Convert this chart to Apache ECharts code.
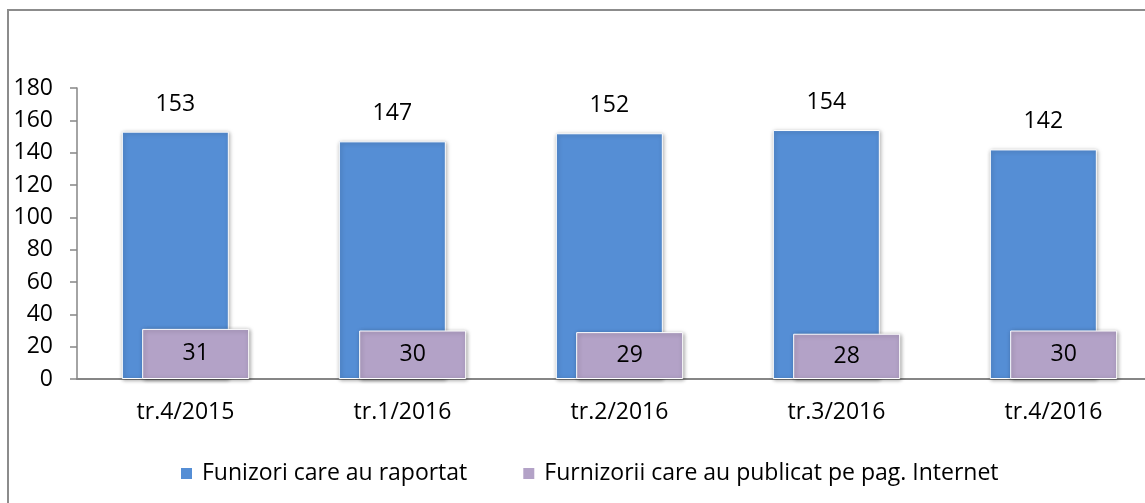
<!DOCTYPE html>
<html>
<head>
<meta charset="utf-8">
<script src="https://cdn.jsdelivr.net/npm/echarts@6/dist/echarts.min.js"></script>
<style>
  html, body { margin: 0; padding: 0; background: #fff; }
  #chart { width: 1145px; height: 503px; }
</style>
</head>
<body>
<div id="chart"></div>
<script>
// date
const categories = ['tr.4/2015', 'tr.1/2016', 'tr.2/2016', 'tr.3/2016', 'tr.4/2016']
const raportat = [153, 147, 152, 154, 142]
const publicat = [31, 30, 29, 28, 30]
const seriesNames = ['Funizori care au raportat', 'Furnizorii care au publicat pe pag. Internet']

const font = '"Open Sans", "Noto Sans", sans-serif'
const barShadow = {
  borderColor: '#fff',
  borderWidth: 1,
  shadowBlur: 4,
  shadowColor: 'rgba(0,0,0,0.35)',
  shadowOffsetX: 1,
  shadowOffsetY: 1
}

const myChart = echarts.init(document.getElementById('chart'))
const option = {
  animation: false,
  textStyle: { fontFamily: font },
  graphic: [{
    type: 'rect',
    shape: { x: 8, y: 10, width: 1300, height: 700 },
    style: { fill: 'none', stroke: '#8c8c8c', lineWidth: 2 },
    silent: true
  }],
  grid: { left: 77, top: 88, width: 1085, height: 291, outerBoundsMode: 'none' },
  legend: {
    left: 174,
    top: 457,
    itemWidth: 13,
    itemHeight: 13,
    itemGap: 54,
    icon: 'rect',
    textStyle: { fontSize: 23, color: '#000', fontFamily: font, padding: [0, 0, 0, 4] },
    data: seriesNames
  },
  xAxis: {
    type: 'category',
    data: categories,
    axisLine: { lineStyle: { color: '#868686', width: 2 } },
    axisTick: { show: false },
    axisLabel: { fontSize: 23, color: '#000', margin: 22, fontFamily: font }
  },
  yAxis: {
    type: 'value',
    min: 0,
    max: 180,
    interval: 20,
    splitLine: { show: false },
    axisLine: { show: true, lineStyle: { color: '#868686', width: 1.5 } },
    axisTick: { show: true, length: 7, lineStyle: { color: '#868686', width: 1.5 } },
    axisLabel: { fontSize: 23, color: '#000', margin: 24, fontFamily: font }
  },
  series: [
    {
      name: seriesNames[0],
      type: 'bar',
      data: raportat,
      barWidth: 107,
      barGap: '-81%',
      itemStyle: Object.assign({ color: '#558ED5' }, barShadow),
      label: { show: true, position: 'top', distance: 16, fontSize: 23, color: '#000', fontFamily: font }
    },
    {
      name: seriesNames[1],
      type: 'bar',
      data: publicat,
      barWidth: 107,
      itemStyle: Object.assign({ color: '#B3A2C7' }, barShadow),
      label: { show: true, position: 'inside', fontSize: 23, color: '#000', fontFamily: font }
    }
  ]
}
myChart.setOption(option)
</script>
</body>
</html>
